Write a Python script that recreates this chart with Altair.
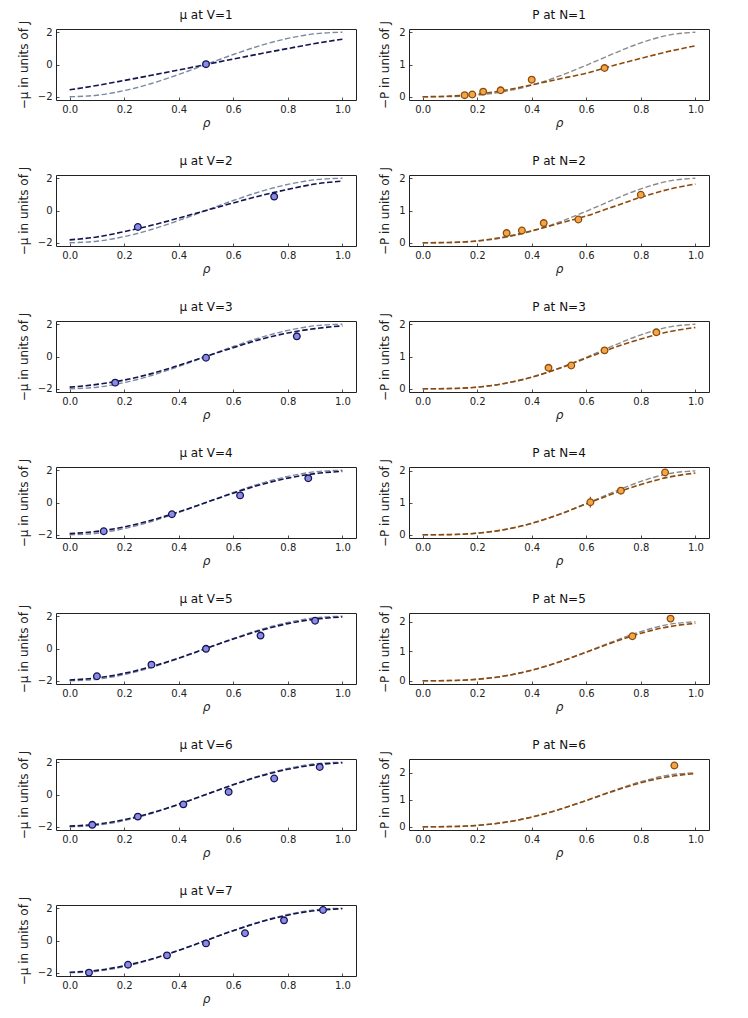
import altair as alt
import pandas as pd

# ---------------- data ----------------
rho_grid = [0.0, 0.1, 0.2, 0.3, 0.4, 0.5, 0.6, 0.7, 0.8, 0.9, 1.0]

# thermodynamic-limit curves (gray)
mu_exact = [-2.0, -1.902, -1.618, -1.176, -0.618, 0.0, 0.618, 1.176, 1.618, 1.902, 2.0]
p_exact = [0.0, 0.007, 0.051, 0.162, 0.358, 0.637, 0.976, 1.338, 1.669, 1.909, 2.0]

# finite-size chemical potential curves (dark blue)
mu_fit_V1 = [-1.57, -1.30, -0.99, -0.67, -0.34, 0.0, 0.34, 0.67, 0.99, 1.30, 1.57]
mu_fit_V2 = [-1.82, -1.64, -1.31, -0.92, -0.47, 0.0, 0.47, 0.92, 1.31, 1.64, 1.82]
mu_fit_V3 = [-1.90, -1.73, -1.46, -1.06, -0.55, 0.0, 0.55, 1.06, 1.46, 1.73, 1.90]
mu_fit_V4 = [-1.93, -1.79, -1.51, -1.10, -0.58, 0.0, 0.58, 1.10, 1.51, 1.79, 1.93]
mu_fit_V5 = [-1.95, -1.82, -1.54, -1.12, -0.59, 0.0, 0.59, 1.12, 1.54, 1.82, 1.95]
mu_fit_V6 = [-1.96, -1.84, -1.56, -1.14, -0.60, 0.0, 0.60, 1.14, 1.56, 1.84, 1.96]
mu_fit_V7 = [-1.97, -1.85, -1.57, -1.15, -0.61, 0.0, 0.61, 1.15, 1.57, 1.85, 1.97]

# finite-size pressure curves (brown)
p_fit_N1 = [0.0, 0.02, 0.08, 0.20, 0.37, 0.55, 0.73, 0.97, 1.19, 1.40, 1.58]
p_fit_N2 = [0.0, 0.01, 0.06, 0.18, 0.37, 0.60, 0.83, 1.12, 1.41, 1.65, 1.82]
p_fit_N3 = [0.0, 0.007, 0.05, 0.165, 0.36, 0.63, 0.95, 1.27, 1.54, 1.76, 1.90]
p_fit_N4 = [0.0, 0.007, 0.05, 0.163, 0.358, 0.635, 0.965, 1.29, 1.57, 1.80, 1.93]
p_fit_N5 = [0.0, 0.007, 0.05, 0.163, 0.358, 0.636, 0.97, 1.31, 1.61, 1.83, 1.95]
p_fit_N6 = [0.0, 0.007, 0.051, 0.163, 0.358, 0.636, 0.972, 1.32, 1.63, 1.85, 1.97]

# measured chemical potential points
mu_rho_V1 = [0.5]
mu_val_V1 = [0.02]
mu_err_V1 = [0.06]
mu_rho_V2 = [0.25, 0.75]
mu_val_V2 = [-1.02, 0.86]
mu_err_V2 = [0.1, 0.12]
mu_rho_V3 = [0.167, 0.5, 0.833]
mu_val_V3 = [-1.62, -0.08, 1.25]
mu_err_V3 = [0.1, 0.1, 0.1]
mu_rho_V4 = [0.125, 0.375, 0.625, 0.875]
mu_val_V4 = [-1.78, -0.73, 0.44, 1.50]
mu_err_V4 = [0.1, 0.1, 0.12, 0.1]
mu_rho_V5 = [0.1, 0.3, 0.5, 0.7, 0.9]
mu_val_V5 = [-1.72, -1.0, -0.02, 0.80, 1.72]
mu_err_V5 = [0.1, 0.1, 0.1, 0.12, 0.1]
mu_rho_V6 = [0.083, 0.25, 0.417, 0.583, 0.75, 0.917]
mu_val_V6 = [-1.88, -1.37, -0.61, 0.16, 0.99, 1.70]
mu_err_V6 = [0.1, 0.1, 0.1, 0.12, 0.12, 0.1]
mu_rho_V7 = [0.071, 0.214, 0.357, 0.5, 0.643, 0.786, 0.929]
mu_val_V7 = [-1.99, -1.50, -0.92, -0.18, 0.45, 1.25, 1.89]
mu_err_V7 = [0.08, 0.08, 0.1, 0.1, 0.12, 0.1, 0.08]

# measured pressure points
p_rho_N1 = [0.154, 0.182, 0.222, 0.286, 0.4, 0.667]
p_val_N1 = [0.05, 0.07, 0.16, 0.20, 0.53, 0.89]
p_err_N1 = [0.02, 0.02, 0.03, 0.03, 0.05, 0.04]
p_rho_N2 = [0.308, 0.364, 0.444, 0.571, 0.8]
p_val_N2 = [0.30, 0.38, 0.61, 0.72, 1.49]
p_err_N2 = [0.05, 0.05, 0.06, 0.06, 0.05]
p_rho_N3 = [0.4615, 0.545, 0.667, 0.857]
p_val_N3 = [0.65, 0.72, 1.19, 1.75]
p_err_N3 = [0.05, 0.05, 0.06, 0.05]
p_rho_N4 = [0.615, 0.727, 0.889]
p_val_N4 = [1.02, 1.38, 1.95]
p_err_N4 = [0.17, 0.06, 0.06]
p_rho_N5 = [0.769, 0.909]
p_val_N5 = [1.51, 2.11]
p_err_N5 = [0.06, 0.08]
p_rho_N6 = [0.923]
p_val_N6 = [2.27]
p_err_N6 = [0.12]

mu_fits = [mu_fit_V1, mu_fit_V2, mu_fit_V3, mu_fit_V4, mu_fit_V5, mu_fit_V6, mu_fit_V7]
mu_pts = [
    (mu_rho_V1, mu_val_V1, mu_err_V1), (mu_rho_V2, mu_val_V2, mu_err_V2),
    (mu_rho_V3, mu_val_V3, mu_err_V3), (mu_rho_V4, mu_val_V4, mu_err_V4),
    (mu_rho_V5, mu_val_V5, mu_err_V5), (mu_rho_V6, mu_val_V6, mu_err_V6),
    (mu_rho_V7, mu_val_V7, mu_err_V7),
]
p_fits = [p_fit_N1, p_fit_N2, p_fit_N3, p_fit_N4, p_fit_N5, p_fit_N6]
p_pts = [
    (p_rho_N1, p_val_N1, p_err_N1), (p_rho_N2, p_val_N2, p_err_N2),
    (p_rho_N3, p_val_N3, p_err_N3), (p_rho_N4, p_val_N4, p_err_N4),
    (p_rho_N5, p_val_N5, p_err_N5), (p_rho_N6, p_val_N6, p_err_N6),
]

# ---------------- styling ----------------
FONT = "DejaVu Sans"
PW, PH = 300, 71
mu_domain = [-2.2, 2.2]
p_domains = [[-0.1, 2.1], [-0.1, 2.1], [-0.1, 2.1], [-0.1, 2.12], [-0.11, 2.3], [-0.12, 2.51]]

def axis_common(**kw):
    return alt.Axis(
        tickSize=3, offset=-3, domain=False, tickColor="#222", tickWidth=0.8,
        labelPadding=4, labelFont=FONT, labelFontSize=10, labelColor="#222",
        titleFont=FONT, titleFontSize=12, titleFontWeight="normal", titleColor="#222",
        grid=False, **kw)

def panel(title, ytitle, fit, exact, pts, domain, ticks, line_c, exact_c, fill_c, edge_c):
    curve = pd.DataFrame({"rho": rho_grid, "fit": fit, "exact": exact})
    rr, vv, ee = pts
    pdf = pd.DataFrame({"rho": rr, "val": vv, "err": ee})
    pdf["lo"] = pdf["val"] - pdf["err"]
    pdf["hi"] = pdf["val"] + pdf["err"]

    xs = alt.X("rho:Q", scale=alt.Scale(domain=[-0.05, 1.05], nice=False, zero=False),
               axis=axis_common(values=[0, 0.2, 0.4, 0.6, 0.8, 1.0], format=".1f",
                                title="ρ", titleFontStyle="italic", titlePadding=3))
    def ys(field):
        return alt.Y(field, scale=alt.Scale(domain=domain, nice=False, zero=False),
                     axis=axis_common(values=ticks, format="d", title=ytitle, titlePadding=7))

    base = alt.Chart(curve)
    g = base.mark_line(strokeDash=[5.5, 2.5], strokeWidth=1.4, color=exact_c,
                       interpolate="monotone", clip=True).encode(x=xs, y=ys("exact:Q"))
    f = base.mark_line(strokeDash=[5.5, 2.5], strokeWidth=1.6, color=line_c,
                       interpolate="monotone", clip=True).encode(x=xs, y=ys("fit:Q"))
    pc = alt.Chart(pdf)
    eb = pc.mark_rule(color=edge_c, strokeWidth=1.2).encode(x=xs, y=ys("lo:Q"), y2="hi:Q")
    pt = pc.mark_point(shape="circle", filled=True, size=44, fill=fill_c, stroke=edge_c,
                       strokeWidth=1.3, opacity=1).encode(x=xs, y=ys("val:Q"))
    return alt.layer(g, f, eb, pt).properties(
        width=PW, height=PH,
        title=alt.TitleParams(title, font=FONT, fontSize=12, fontWeight="normal",
                              color="#111", offset=-2))

rows = []
for i in range(7):
    left = panel(f"μ at V={i+1}", "−μ in units of J", mu_fits[i], mu_exact, mu_pts[i],
                 mu_domain, [-2, 0, 2], "#141450", "#7a8aa2", "#8a8ae8", "#141450")
    if i < 6:
        right = panel(f"P at N={i+1}", "−P in units of J", p_fits[i], p_exact, p_pts[i],
                      p_domains[i], [0, 1, 2], "#8c4a0c", "#8a8a8a", "#f3a647", "#8c4a0c")
        rows.append(alt.hconcat(left, right, spacing=21))
    else:
        rows.append(alt.hconcat(left, spacing=21))

chart = alt.vconcat(*rows, spacing=25).properties(
    padding={"left": 8, "top": 0, "right": 5, "bottom": 5}
).configure(background="white").configure_view(stroke="#222", strokeWidth=1)

chart.save("out.html", embed_options={"renderer": "svg", "actions": False})
